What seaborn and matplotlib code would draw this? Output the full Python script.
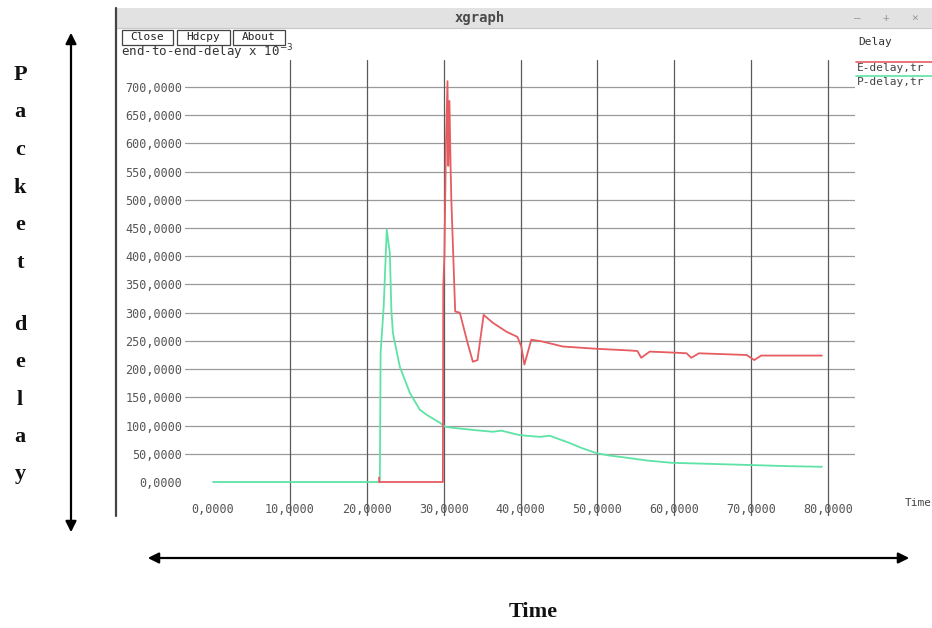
import numpy as np
import pandas as pd
import matplotlib
matplotlib.use('Agg')
import matplotlib.pyplot as plt
import seaborn as sns
from matplotlib.patches import Rectangle
from matplotlib.lines import Line2D

# values (delay in units of 10^-3)
p_time = [0, 20.5, 21.7, 21.8, 22.2, 22.6, 23.0, 23.2, 23.4, 24.3, 25.6, 26.9, 27.8, 29.5,
          30.2, 31.2, 34.0, 36.4, 37.5, 39.9, 42.5, 43.8, 46.4, 48.0, 49.9, 51.5, 53.8,
          56.5, 59.7, 65.0, 70.1, 75.0, 79.2]
p_delay = [0, 0, 0, 229, 310, 447, 406, 305, 264, 204, 158, 128, 119, 105,
           98, 96, 92, 89, 91, 83, 80, 82, 69, 60, 51, 47, 43,
           38, 34, 32, 30, 28, 27]

e_time = [21.6, 21.6, 29.9, 29.95, 30.1, 30.3, 30.5, 30.6, 30.75, 30.9, 31.0, 31.5, 32.1,
          33.1, 33.8, 34.4, 35.2, 36.4, 38.2, 39.6, 40.1, 40.5, 41.4, 42.8, 45.5, 49.9,
          54.2, 55.2, 55.7, 56.8, 60.3, 61.6, 62.2, 63.2, 69.4, 70.4, 71.3, 79.2]
e_delay = [8, 0, 0, 346, 400, 600, 710, 560, 675, 560, 500, 302, 300,
           247, 213, 216, 296, 282, 266, 257, 240, 208, 252, 249, 240, 236,
           233, 232, 220, 231, 229, 228, 220, 228, 225, 216, 224, 224]

x_ticks = [0, 10, 20, 30, 40, 50, 60, 70, 80]
y_ticks = list(range(0, 701, 50))
x_labels = [f"{v},0000" for v in x_ticks]
y_labels = [f"{v},0000" for v in y_ticks]

series_names = ['P-delay,tr', 'E-delay,tr']
series_colors = {'P-delay,tr': '#5ee3a6', 'E-delay,tr': '#e65c61'}
side_letters = ['P', 'a', 'c', 'k', 'e', 't', 'd', 'e', 'l', 'a', 'y']

df = pd.concat([
    pd.DataFrame({'time': p_time, 'delay': p_delay, 'series': 'P-delay,tr'}),
    pd.DataFrame({'time': e_time, 'delay': e_delay, 'series': 'E-delay,tr'}),
], ignore_index=True)

W, H = 932, 628


def fx(x):
    return x / W


def fy(y):
    return 1 - y / H


sns.set_theme(style='white')
plt.rcParams['font.family'] = ['DejaVu Sans Mono']

fig = plt.figure(figsize=(9.32, 6.28), dpi=100)
fig.patch.set_facecolor('white')

# ---- xgraph window chrome ----
fig.add_artist(Rectangle((fx(115), fy(28)), fx(932) - fx(115), 20 / H, transform=fig.transFigure,
                         facecolor='#e2e2e2', edgecolor='none', zorder=1))
fig.add_artist(Line2D([fx(115), fx(932)], [fy(28), fy(28)], color='#c8c8c8', lw=0.8, zorder=2))
fig.add_artist(Line2D([fx(116), fx(116)], [fy(8), fy(516)], color='#444444', lw=1.6, zorder=2))
fig.text(fx(480), fy(18), 'xgraph', ha='center', va='center', fontsize=10, fontweight='bold',
         color='#4a4a4a')
for x, s in [(857, '\u2014'), (886, '+'), (915, '\u00d7')]:
    fig.text(fx(x), fy(18), s, ha='center', va='center', fontsize=8, color='#9a9a9a')

# y axis caption, tucked just under the buttons like in xgraph
fig.text(fx(121), fy(52), 'end-to-end-delay x 10$^{-3}$', ha='left', va='center', fontsize=9,
         color='#333333', zorder=3)
for x0, x1, label in [(122, 173, 'Close'), (177, 230, 'Hdcpy'), (233, 285, 'About')]:
    fig.add_artist(Rectangle((fx(x0), fy(45)), (x1 - x0) / W, 15 / H, transform=fig.transFigure,
                             facecolor='white', edgecolor='#444444', lw=0.9, zorder=4))
    fig.text(fx((x0 + x1) / 2), fy(37.5), label, ha='center', va='center', fontsize=8,
             color='#222222', zorder=5)

# legend on the right
fig.text(fx(858), fy(42), 'Delay', ha='left', va='center', fontsize=8, color='#333333')
for y_line, name in [(62, 'E-delay,tr'), (76, 'P-delay,tr')]:
    fig.add_artist(Line2D([fx(856), fx(932)], [fy(y_line), fy(y_line)],
                          color=series_colors[name], lw=1.2))
    fig.text(fx(857), fy(y_line + 6), name, ha='left', va='center', fontsize=8, color='#444444')
fig.text(fx(905), fy(503), 'Time', ha='left', va='center', fontsize=8, color='#444444')

# ---- plot area ----
ax = fig.add_axes([fx(185), fy(516), (855 - 185) / W, (516 - 60) / H])
ax.set_facecolor('none')
ax.set_xlim(-3.64, 83.5)
ax.set_ylim(-60.2, 747.5)
for v in y_ticks[1:]:
    ax.axhline(v, color='#9a9a9a', lw=0.9, zorder=0)
for v in x_ticks[1:]:
    ax.axvline(v, color='#5a5a5a', lw=0.9, zorder=0)

sns.lineplot(data=df, x='time', y='delay', hue='series', hue_order=series_names,
             palette=series_colors, estimator=None, sort=False, legend=False, lw=1.3, ax=ax)

ax.set_yticks(y_ticks)
ax.set_yticklabels(y_labels)
ax.set_xticks([])
ax.tick_params(axis='y', length=0, pad=2, labelsize=8.5, labelcolor='#555555')
for xv, lab in zip(x_ticks, x_labels):
    ax.text(xv, -48, lab, ha='center', va='center', fontsize=8.5, color='#555555')
ax.set_xlabel('')
ax.set_ylabel('')
for sp in ax.spines.values():
    sp.set_visible(False)

# ---- document annotations outside the window ----
letter_y = [75, 112, 150, 188, 225, 263, 325, 362, 400, 437, 474]
for ch, y in zip(side_letters, letter_y):
    fig.text(fx(20), fy(y), ch, ha='center', va='center', fontsize=16, fontweight='bold',
             family='Liberation Serif', color='#111111')

fig.add_artist(matplotlib.patches.FancyArrowPatch((fx(71), fy(535)), (fx(71), fy(30)),
                                                  transform=fig.transFigure, arrowstyle='<|-|>',
                                                  mutation_scale=16, color='black', lw=1.6))
fig.add_artist(matplotlib.patches.FancyArrowPatch((fx(145), fy(558)), (fx(912), fy(558)),
                                                  transform=fig.transFigure, arrowstyle='<|-|>',
                                                  mutation_scale=16, color='black', lw=1.6))
fig.text(fx(533), fy(612), 'Time', ha='center', va='center', fontsize=16, fontweight='bold',
         family='Liberation Serif', color='#111111')

fig.savefig('out.png', dpi=100)
